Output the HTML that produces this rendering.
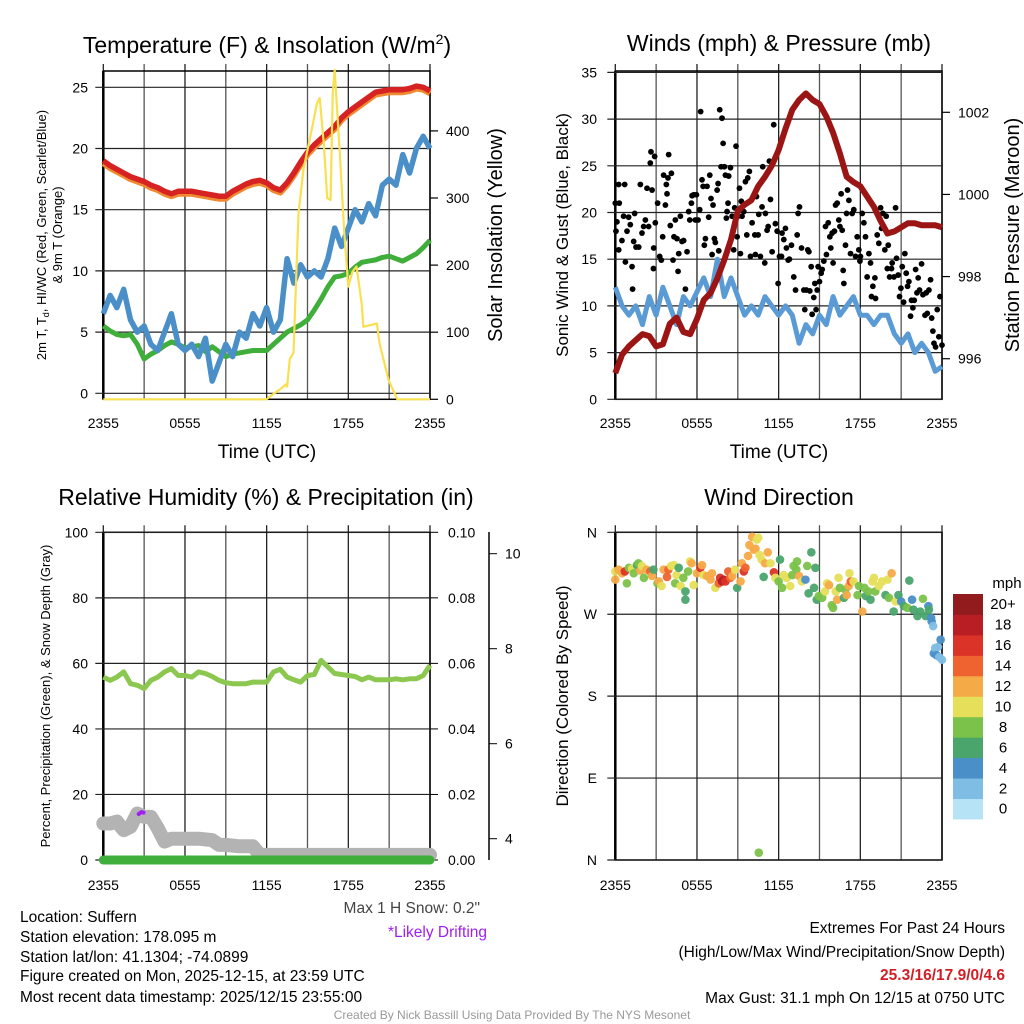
<!DOCTYPE html>
<html><head><meta charset="utf-8"><title>Mesonet Meteogram - Suffern</title>
<style>
html,body{margin:0;padding:0;background:#fff;}
svg{display:block;font-family:"Liberation Sans",Arial,sans-serif;}
</style></head>
<body>
<svg id="fig" width="1024" height="1024" viewBox="0 0 1024 1024" xmlns="http://www.w3.org/2000/svg">
<rect width="1024" height="1024" fill="#fff"/>
<g id="layer"></g>
<g font-size="23" text-anchor="middle" fill="#000">
<text x="267" y="53">Temperature (F) &amp; Insolation (W/m<tspan dy="-9" font-size="14">2</tspan><tspan dy="9">)</tspan></text>
<text x="779" y="51">Winds (mph) &amp; Pressure (mb)</text>
<text x="266" y="505">Relative Humidity (%) &amp; Precipitation (in)</text>
<text x="779" y="505">Wind Direction</text>
</g>
<g fill="#000" text-anchor="middle">
<text x="267" y="458" font-size="19">Time (UTC)</text>
<text x="779" y="458" font-size="19">Time (UTC)</text>
<text transform="translate(46,235) rotate(-90)" font-size="13">2m T, T<tspan font-size="9" dy="3">d</tspan><tspan dy="-3">, HI/WC (Red, Green, Scarlet/Blue)</tspan></text>
<text transform="translate(62,235) rotate(-90)" font-size="13">&amp; 9m T (Orange)</text>
<text transform="translate(502,235) rotate(-90)" font-size="20">Solar Insolation (Yellow)</text>
<text transform="translate(568,235) rotate(-90)" font-size="17">Sonic Wind &amp; Gust (Blue, Black)</text>
<text transform="translate(1019,235) rotate(-90)" font-size="20">Station Pressure (Maroon)</text>
<text transform="translate(50,696) rotate(-90)" font-size="13">Percent, Precipitation (Green), &amp; Snow Depth (Gray)</text>
<text transform="translate(568,696) rotate(-90)" font-size="17">Direction (Colored By Speed)</text>
<text x="1007" y="588" font-size="15">mph</text>
</g>
<g font-size="15.5" fill="#000">
<text x="480" y="913" text-anchor="end" fill="#444">Max 1 H Snow: 0.2"</text>
<text x="487" y="937" text-anchor="end" fill="#a020f0">*Likely Drifting</text>
<text x="20" y="922">Location: Suffern</text>
<text x="20" y="942">Station elevation: 178.095 m</text>
<text x="20" y="962">Station lat/lon: 41.1304; -74.0899</text>
<text x="20" y="981">Figure created on Mon, 2025-12-15, at 23:59 UTC</text>
<text x="20" y="1002">Most recent data timestamp: 2025/12/15 23:55:00</text>
<text x="1005" y="933" text-anchor="end">Extremes For Past 24 Hours</text>
<text x="1005" y="957" text-anchor="end">(High/Low/Max Wind/Precipitation/Snow Depth)</text>
<text x="1005" y="980" text-anchor="end" fill="#d21f26" font-weight="bold">25.3/16/17.9/0/4.6</text>
<text x="1005" y="1003" text-anchor="end">Max Gust: 31.1 mph On 12/15 at 0750 UTC</text>
<text x="512" y="1019" text-anchor="middle" font-size="12" fill="#999">Created By Nick Bassill Using Data Provided By The NYS Mesonet</text>
</g>
</svg>
<script>
// ---------- DATA ----------
const halfHours = [0,0.5,1,1.5,2,2.5,3,3.5,4,4.5,5,5.5,6,6.5,7,7.5,8,8.5,9,9.5,10,10.5,11,11.5,12,12.5,13,13.5,14,14.5,15,15.5,16,16.5,17,17.5,18,18.5,19,19.5,20,20.5,21,21.5,22,22.5,23,23.5,24];
const tempF = [19,18.6,18.3,18,17.7,17.5,17.3,17,16.8,16.5,16.3,16.5,16.5,16.5,16.4,16.3,16.2,16.1,16.1,16.5,16.8,17.1,17.3,17.4,17.2,16.8,16.6,17.2,18,18.9,19.7,20.3,20.8,21.3,21.8,22.5,23,23.4,23.8,24.2,24.6,24.7,24.8,24.8,24.8,24.9,25.1,25,24.7];
const temp9mF = [18.8,18.4,18.1,17.8,17.5,17.3,17.1,16.8,16.6,16.3,16.1,16.3,16.3,16.3,16.2,16.1,16,15.9,15.9,16.3,16.6,16.9,17.1,17.2,17,16.6,16.4,17,17.8,18.7,19.5,20.1,20.6,21.1,21.6,22.3,22.8,23.2,23.6,24,24.4,24.5,24.6,24.6,24.6,24.7,24.9,24.8,24.5];
const dewF = [5.5,5.1,4.8,4.7,4.8,4,2.8,3.2,3.5,3.9,4.2,4,3.7,3.8,3.9,3.4,3.8,3.4,3,3.2,3.3,3.4,3.5,3.5,3.5,4,4.5,5,5.3,5.6,6,6.8,7.7,8.7,9.5,9.6,9.8,10.3,10.7,10.8,10.9,11.1,11.2,11,10.8,11.1,11.4,11.9,12.5];
const windChillF = [6.5,8,7,8.5,6,5,5.5,4,3.5,5,6.5,4,3.5,4,3,4.5,1,2.5,4,3,5,4.5,6.5,5.5,7,5,6,11,9,10.5,9.5,10,9.5,11,13.5,12,13.5,15,14,15.5,14.5,17,17.5,17,19.5,18,20,21,20];
const solarHours = [0,12,12.5,13,13.4,13.5,13.7,13.97,14.34,14.7,15.3,15.7,15.9,16.2,16.45,16.7,16.85,17.0,17.4,17.7,18.0,18.3,18.6,19.0,19.1,20.1,20.3,20.95,21.6,24];
const solarWm2 = [0,0,8,15,22,19,60,69,277,342,401,441,449,381,300,297,455,491,357,250,168,190,198,140,108,113,83,29,0,0];
const windMph = [12,10,9,10,8,11,9,12,10,8,11,10,11.5,13,11,15,11,13,11,9,10,9,11,10,9,10,9,6,8,7,9,8,11,9,10,11,9,9,8,9,9,7,6,7,5,6,5,3,3.5];
const pressureMb = [995.65,996.1,996.3,996.45,996.6,996.55,996.3,996.35,996.85,997.0,996.65,996.6,996.97,997.43,997.6,997.96,998.4,998.9,999.6,999.75,999.86,1000.2,1000.43,1000.7,1001.08,1001.6,1002.06,1002.3,1002.46,1002.3,1002.2,1001.9,1001.5,1001.0,1000.43,1000.3,1000.2,999.95,999.7,999.35,999.05,999.1,999.2,999.3,999.3,999.25,999.25,999.25,999.2];
const gustHours = [0,0.05,0.12,0.25,0.29,0.25,0.49,0.61,0.69,0.74,0.86,0.98,1.1,1.23,1.27,1.35,1.42,1.52,1.72,1.84,1.96,2.08,2.21,2.33,2.45,2.57,2.62,2.7,2.82,2.89,2.94,2.8,3.11,3.26,3.38,3.48,3.55,3.68,3.75,3.8,3.87,3.92,4.04,4.12,4.24,4.31,4.41,4.53,4.61,4.66,4.78,4.9,5.02,5.15,5.27,5.39,5.47,5.59,5.64,5.76,5.88,5.96,6.08,6.2,6.27,6.37,6.45,6.54,6.62,6.74,6.86,6.94,7.03,7.11,7.18,7.28,7.35,7.48,7.55,7.6,7.67,7.77,7.84,7.92,8.01,8.09,8.16,8.21,8.28,8.33,8.46,8.58,8.7,8.77,8.87,8.95,9.02,9.12,9.19,9.26,9.31,9.44,9.56,9.66,9.73,9.85,9.93,10.05,10.17,10.25,10.29,10.37,10.49,10.54,10.66,10.78,10.83,10.98,11.03,11.15,11.23,11.32,11.4,11.52,11.64,11.76,11.89,11.96,12.06,12.21,12.25,12.38,12.5,12.57,12.7,12.79,12.94,13.11,13.24,13.36,13.43,13.53,13.68,13.85,13.92,14.04,14.14,14.22,14.29,14.39,14.46,14.58,14.66,14.75,14.83,14.9,15,15.12,15.2,15.32,15.44,15.51,15.64,15.76,15.83,15.93,16,16.1,16.18,16.3,16.42,16.5,16.59,16.67,16.74,16.79,16.91,16.99,17.06,17.16,17.28,17.4,17.52,17.65,17.77,17.89,17.97,18.01,18.14,18.26,18.38,18.5,18.63,18.75,18.82,18.92,19.07,19.12,19.24,19.36,19.49,19.56,19.66,19.8,19.9,19.98,20.05,20.15,20.29,20.34,20.47,20.59,20.66,20.78,20.88,20.98,21.08,21.18,21.27,21.37,21.47,21.57,21.69,21.76,21.86,21.96,22.06,22.16,22.25,22.35,22.5,22.6,22.75,22.84,22.92,23.04,23.16,23.24,23.33,23.41,23.53,23.65,23.77,23.85,24];
const gustMph = [21,18,19,23,21,16,17,19.6,23,14.7,18,19.5,18.7,14.2,11.8,16.9,19.9,16.3,16.3,23,17.8,18.5,19.2,22.6,18.5,25.3,26.5,22.4,16.2,26,18.9,14,21,15.3,14.9,17.4,24,20.8,23,22,23.7,26.2,18.6,24.2,14.9,17.4,19.2,17.2,13.7,15.6,19.6,16.9,17,11.8,15.8,20.1,19.2,21,21.8,21.9,19.2,21.9,19.2,20.3,30.8,23.5,22.8,16.5,17.2,22.8,19.5,24,21.5,15.5,20.8,17.2,16.8,22.4,23.1,15.9,31,24.9,30.1,27.4,24.9,24,19.4,20.1,21,23.9,24.8,19.6,16,20.5,27.1,17.4,19.6,22.6,15.6,21.2,19.6,20.1,23.3,17.6,23.7,24.4,15.3,18.9,21.8,17.6,15.5,21.7,17.6,19.8,15.3,20.6,24.9,14.6,19.9,18.1,18.5,25.5,21.4,15.8,29.4,18.8,18,12.4,15.3,15.3,17.8,17.1,18.3,16.2,14.9,15,16.5,13.1,11.7,17.6,19.9,20.6,16.2,11.7,9.6,11.7,16,15.8,11.6,14.2,9.1,10.9,12.4,9.6,11.7,14.2,12.6,13.5,13.9,14.8,18.5,15.5,18.9,17.4,16.2,17.8,14.6,18,20.8,21,19.2,18.5,22,18.1,13.8,12.4,16.5,19.9,22.4,21.3,15.6,19.9,20.3,15.3,17.4,16,14.8,15.3,19.9,18.9,17.4,13.1,15.6,14.6,11,12.1,13,10.8,17.6,16.7,20.5,18.3,19.9,16,19.6,14,16.5,13.1,14,14.6,13.1,20.5,15.1,13.3,11,11.9,14.2,10.4,15.6,13.5,12.1,12.6,8.9,10.6,9.8,10.6,13.9,11.4,13,11.7,14.5,11.2,9,11.4,9.2,11.7,12.8,8.7,7.3,6,5.6,9.6,6.7,11,5.8];
const rhPct = [55.8,54.8,55.8,57.4,53.8,53.3,52.3,54.8,55.8,57.4,58.4,56.3,56.3,55.8,57.4,56.9,56,54.8,54.1,53.8,53.8,53.8,54.3,54.3,54.3,57.4,58.2,55.8,55,54.3,56.3,56.6,60.9,58.9,56.9,56.6,56.3,56,55,55.8,55,55,55,55.3,55,55.3,55.3,56.3,59.4];
const snowHours = [0,0.5,1,1.5,2,2.5,3,3.5,4,4.5,5,6,7,8,8.5,9,10,11,11.5,12,24];
const snowIn = [4.32,4.32,4.36,4.18,4.25,4.53,4.46,4.46,4.22,3.94,4.0,4.0,4.0,3.97,3.87,3.87,3.84,3.84,3.66,3.66,3.66];
const precipIn = [0,0];
const precipHours = [0,24];
const driftHours = [2.6,2.8,2.95];
const driftIn = [4.52,4.56,4.55];
const dirHours = [0,0,0.25,0.5,0.7,0.85,1,1.23,1.35,1.6,1.7,1.84,1.96,2.1,2.3,2.57,2.7,2.8,3.1,3.2,3.4,3.55,3.8,3.9,4.1,4.3,4.4,4.5,4.66,4.8,5,5.15,5.15,5.35,5.5,5.6,5.76,6,6.25,6.37,6.5,6.74,7,7.1,7.35,7.6,7.7,7.84,7.97,8.1,8.3,8.45,8.6,8.8,8.95,9.2,9.3,9.44,9.56,9.75,9.85,10.05,10.17,10.3,10.4,10.5,10.6,10.75,10.9,11,11.2,11.4,11.65,11.76,12,12.1,12.25,12.38,12.6,12.85,13,13.1,13.3,13.35,13.5,13.7,13.97,14.1,14.2,14.4,14.6,14.7,14.8,14.95,15.2,15.4,15.56,15.7,15.9,16,16.2,16.3,16.4,16.5,16.8,16.9,17,17.15,17.3,17.2,17.5,17.8,17.9,18.15,18.3,18.4,18.6,18.75,18.9,19,19.1,19.36,19.6,19.85,20,20.1,20.3,20.45,20.6,20.8,21,21.2,21.45,21.6,21.8,21.9,22.2,22.4,22.6,22.8,23,23.04,23.2,23.24,23.35,23.4,23.5,23.7,23.6,23.9,24,23.8,10.54];
const dirDeg = [308,317,319,315,317,304,321,320,315,324,326,318,323,310,319,317,312,319,304,306,301,319,311,319,323,324,304,313,321,301,310,286,295,317,328,326,302,315,321,324,313,312,308,315,299,304,310,306,308,306,317,310,312,319,299,306,326,317,321,334,346,355,341,342,352,354,335,330,311,326,338,326,316,310,306,330,299,313,310,301,313,323,319,328,312,306,308,323,293,338,299,321,286,290,288,295,304,302,280,277,295,286,310,299,288,297,291,301,306,315,306,291,301,273,299,290,295,286,306,310,295,301,306,291,308,288,315,273,284,291,284,279,277,307,286,275,268,273,287,268,279,275,266,262,257,227,233,234,225,242,220,223,8];
const dirSpeed = [12,10,12,12,16,8,8,10,9,7,8,12,10,8,12,15,12,6,8,12,10,12,15,15,10,10,9,10,6,10,8,6,6,8,10,12,10,12,17,12,10,12,12,12,10,14,16,18,19,17,14,14,12,10,6,12,12,16,14,12,12,12,12,12,10,10,10,10,6,12,12,10,16,10,8,6,8,10,10,10,8,8,8,8,12,10,4,8,6,6,6,6,6,8,8,10,10,12,8,8,10,12,10,8,6,8,12,12,14,10,10,8,8,12,8,6,8,6,10,10,8,10,10,6,10,8,12,6,10,6,4,6,8,6,4,6,6,6,8,6,4,6,4,4,2,4,2,2,4,4,2,2,8];
const tempTicks = [0,5,10,15,20,25];
const solarTicks = [0,100,200,300,400];
const windTicks = [0,5,10,15,20,25,30,35];
const pressTicks = [996,998,1000,1002];
const rhTicks = [0,20,40,60,80,100];
const precipTickLabels = ["0.00","0.02","0.04","0.06","0.08","0.10"];
const snowTicks = [4,6,8,10];
const dirTickLabels = ["N","E","S","W","N"];
const timeTickHours = [0,6,12,18,24];
const timeTickLabels = ["2355","0555","1155","1755","2355"];
const speedBins = ["0","2","4","6","8","10","12","14","16","18","20+"];
const speedColors = ["#b7e3f7","#80bde4","#4a8fc8","#4aa56d","#7bc24a","#e6df5a","#f5aa48","#ef6331","#db3327","#b91e25","#921b1d"];

// ---------- DRAWING ----------
const NS = "http://www.w3.org/2000/svg";
const layer = document.getElementById("layer");
function mk(tag, attrs, parent){
  const e = document.createElementNS(NS, tag);
  for (const k in attrs) e.setAttribute(k, attrs[k]);
  (parent||layer).appendChild(e);
  return e;
}
const panels = {
  temp:{x0:103.3,x1:430,y0:71,y1:399.3},
  wind:{x0:615.3,x1:942,y0:71,y1:399.3},
  rh:{x0:103.3,x1:430,y0:532.3,y1:860},
  dir:{x0:615.3,x1:942,y0:532.3,y1:860}
};
function xScale(p){return h => p.x0 + h/24*(p.x1-p.x0);}
const yTemp = v => 393.3 - v*12.24;
const ySolar = v => 399.3 - v*0.671;
const yWind = v => 399.3 - v*9.34;
const yPress = p => 112.3 + (1002-p)*41.07;
const yRH = v => 860 - v*3.277;
const yPrecip = v => 860 - v*3277;
const ySnow = s => 838.7 - (s-4)*47.5;
const yDir = d => 860 - d/360*327.7;

function pathD(xs, ys, fx, fy){
  return xs.map((h,i)=>(i?"L":"M")+fx(h).toFixed(1)+","+fy(ys[i]).toFixed(1)).join(" ");
}

function frame(p, name, bottomY){
  const g = mk("g",{});
  
  
  const fx = xScale(p);
  for(let h=0;h<=24;h+=3){
    const l = mk("line",{x1:fx(h),x2:fx(h),y1:p.y0-7,y2:p.y1,stroke:(h%6==0)?"#222":"#555","stroke-width":1.3},g);
    
    
  }
  const b = mk("rect",{x:p.x0,y:p.y0,width:p.x1-p.x0,height:p.y1-p.y0,fill:"none",stroke:"#000","stroke-width":1.5},g);
  
  
  mk("line",{x1:p.x0,x2:p.x0,y1:p.y0,y2:p.y1,stroke:"#000","stroke-width":2.5},g);
  timeTickHours.forEach((h,i)=>{
    const t = mk("text",{x:fx(h),y:bottomY,"font-size":14,"text-anchor":"middle"},g);
    t.textContent = timeTickLabels[i];
    
    
  });
  return g;
}
function hgrid(p, vals, fy, g, col){
  vals.forEach(v=>{
    mk("line",{x1:p.x0-8,x2:p.x1,y1:fy(v),y2:fy(v),stroke:col||"#222","stroke-width":1.2},g);
  });
}
function label(x,y,txt,anchor,g,name,size){
  const t = mk("text",{x:x,y:y+5,"font-size":size||14,"text-anchor":anchor},g);
  t.textContent = txt;
  
  
  return t;
}
function rightTicks(p, vals, fy, g){
  vals.forEach(v=>mk("line",{x1:p.x1,x2:p.x1+8,y1:fy(v),y2:fy(v),stroke:"#000","stroke-width":1.2},g));
}

// ---- Panel 1: temperature ----
{
  const p = panels.temp, fx = xScale(p);
  const g = frame(p,"temperature-panel",428);
  hgrid(p,tempTicks,yTemp,g);
  tempTicks.forEach(v=>label(88,yTemp(v),String(v),"end",g,"temp-y-tick-label"));
  rightTicks(p,solarTicks,ySolar,g);
  solarTicks.forEach(v=>label(446,ySolar(v),String(v),"start",g,"solar-y-tick-label"));
  const s1 = mk("path",{d:pathD(halfHours,temp9mF,fx,yTemp),fill:"none",stroke:"#f08a30","stroke-width":6,"stroke-linejoin":"round"});
   
  const s2 = mk("path",{d:pathD(halfHours,tempF,fx,yTemp),fill:"none",stroke:"#d62222","stroke-width":5.5,"stroke-linejoin":"round"});
   
  const s3 = mk("path",{d:pathD(halfHours,dewF,fx,yTemp),fill:"none",stroke:"#3fae3a","stroke-width":5,"stroke-linejoin":"round"});
   
  const s4 = mk("path",{d:pathD(halfHours,windChillF,fx,yTemp),fill:"none",stroke:"#4a8fc8","stroke-width":5.5,"stroke-linejoin":"round"});
   
  const s5 = mk("path",{d:pathD(solarHours,solarWm2,fx,ySolar),fill:"none",stroke:"#f8e050","stroke-width":2.2,"stroke-linejoin":"round"});
   
}
// ---- Panel 2: winds ----
{
  const p = panels.wind, fx = xScale(p);
  const g = frame(p,"winds-panel",428);
  hgrid(p,windTicks,yWind,g);
  windTicks.forEach(v=>label(597,yWind(v),String(v),"end",g,"wind-y-tick-label"));
  rightTicks(p,pressTicks,yPress,g);
  pressTicks.forEach(v=>label(958,yPress(v),String(v),"start",g,"pressure-y-tick-label"));
  const w = mk("path",{d:pathD(halfHours,windMph,fx,yWind),fill:"none",stroke:"#5b9bd5","stroke-width":5,"stroke-linejoin":"round"});
   
  const gg = mk("g",{});
   
  gustHours.forEach((h,i)=>{
    const c = mk("circle",{cx:fx(h),cy:yWind(gustMph[i]),r:2.9,fill:"#000"},gg);
    
    
  });
  const pr = mk("path",{d:pathD(halfHours,pressureMb,fx,yPress),fill:"none",stroke:"#9b1515","stroke-width":6,"stroke-linejoin":"round"});
   
}
// ---- Panel 3: RH ----
{
  const p = panels.rh, fx = xScale(p);
  const g = frame(p,"humidity-panel",890);
  hgrid(p,rhTicks,yRH,g);
  rhTicks.forEach(v=>label(88,yRH(v),String(v),"end",g,"rh-y-tick-label"));
  rhTicks.forEach((v,i)=>{mk("line",{x1:p.x1,x2:p.x1+8,y1:yRH(v),y2:yRH(v),stroke:"#000"},g);label(448,yRH(v),precipTickLabels[i],"start",g,"precip-y-tick-label");});
  mk("line",{x1:489,x2:489,y1:532,y2:860,stroke:"#000","stroke-width":1.5},g);
  snowTicks.forEach(v=>{mk("line",{x1:489,x2:497,y1:ySnow(v),y2:ySnow(v),stroke:"#000"},g);label(505,ySnow(v),String(v),"start",g,"snow-y-tick-label");});
  const sn = mk("path",{d:pathD(snowHours,snowIn,fx,ySnow),fill:"none",stroke:"#b3b3b3","stroke-width":14,"stroke-linejoin":"round","stroke-linecap":"round"});
   
  const dr = mk("path",{d:pathD(driftHours,driftIn,fx,ySnow),fill:"none",stroke:"#a020f0","stroke-width":4,"stroke-linecap":"round"});
   
  const pc = mk("path",{d:pathD(precipHours,precipIn,fx,yPrecip),fill:"none",stroke:"#3fae3a","stroke-width":9,"stroke-linecap":"round"});
   
  mk("line",{x1:p.x0,x2:p.x1,y1:860,y2:860,stroke:"#222","stroke-width":1.2},g);
  const rh = mk("path",{d:pathD(halfHours,rhPct,fx,yRH),fill:"none",stroke:"#8cc850","stroke-width":5,"stroke-linejoin":"round"});
   
}
// ---- Panel 4: direction ----
{
  const p = panels.dir, fx = xScale(p);
  const g = frame(p,"wind-direction-panel",890);
  const dirVals = [0,90,180,270,360];
  hgrid(p,dirVals,yDir,g);
  dirVals.forEach((v,i)=>label(597,yDir(v),dirTickLabels[i],"end",g,"direction-y-tick-label"));
  const gg = mk("g",{});
   
  dirHours.forEach((h,i)=>{
    const bin = Math.min(10, Math.floor(dirSpeed[i]/2));
    const c = mk("circle",{cx:fx(h),cy:yDir(dirDeg[i]),r:4.3,fill:speedColors[bin],"fill-opacity":0.95},gg);
    
    
  });
  const cb = mk("g",{});
   
  const top = 594, bh = 20.45;
  speedBins.forEach((lab,i)=>{
    const k = speedBins.length-1-i;
    const y = top + k*bh;
    const r = mk("rect",{x:953,y:y,width:30,height:bh+0.5,fill:speedColors[i]},cb);
    
    
    label(1003,y+bh/2,lab,"middle",cb,"colorbar-label",15);
  });
}
</script>
</body></html>
